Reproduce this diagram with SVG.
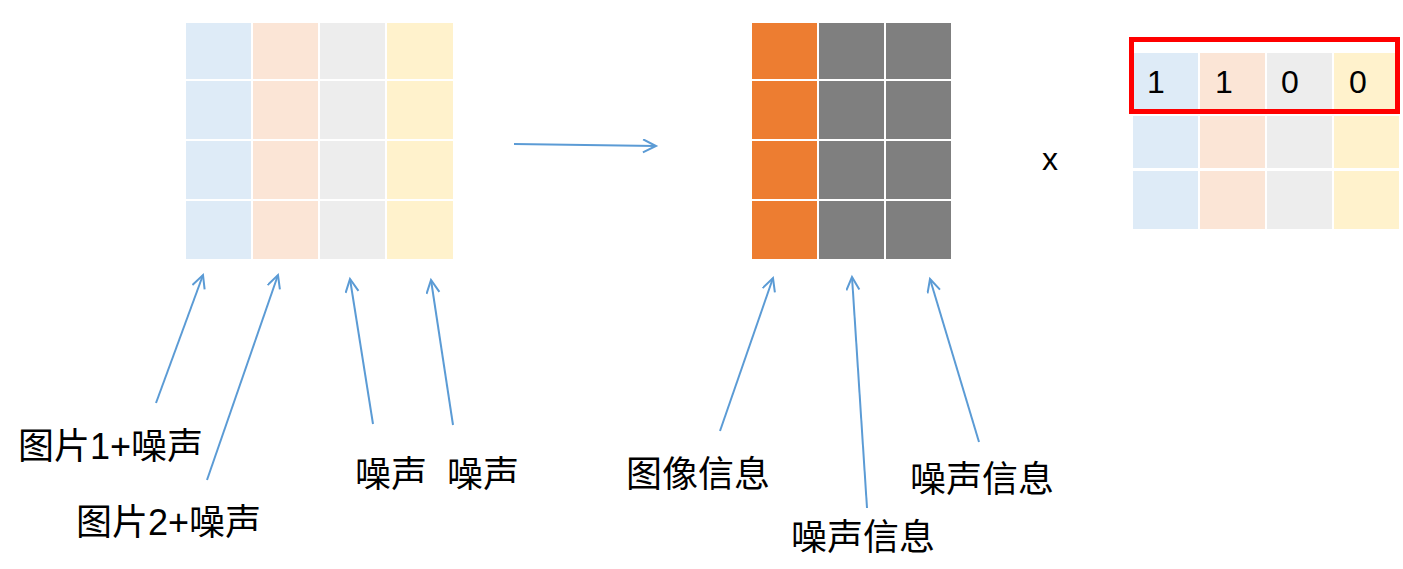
<svg xmlns="http://www.w3.org/2000/svg" width="1403" height="569" viewBox="0 0 1403 569">
<style>
.c1{fill:#DEEBF7}.c2{fill:#FBE5D6}.c3{fill:#EDEDED}.c4{fill:#FFF2CC}
.or{fill:#ED7D31}.gr{fill:#7F7F7F}
.conn{stroke:#5B9BD5;stroke-width:2;fill:none;marker-end:url(#ah)}
.t{font-family:"Liberation Sans","Noto Sans CJK SC",sans-serif;font-size:36px;fill:#000}
.n{font-family:"Liberation Sans","Noto Sans CJK SC",sans-serif;font-size:32px;fill:#000;text-anchor:middle}
</style>
<defs>
<marker id="ah" markerUnits="userSpaceOnUse" markerWidth="18" markerHeight="16" refX="14" refY="7" orient="auto" viewBox="0 0 18 16">
<path d="M1,0.5 L14,7 L1,13.5" fill="none" stroke="#5B9BD5" stroke-width="2"/>
</marker>
</defs>
<g id="grid-input">
<rect class="c1" x="186" y="23" width="65" height="56"/><rect class="c2" x="253" y="23" width="65" height="56"/><rect class="c3" x="320" y="23" width="65" height="56"/><rect class="c4" x="387" y="23" width="66" height="56"/>
<rect class="c1" x="186" y="81" width="65" height="58"/><rect class="c2" x="253" y="81" width="65" height="58"/><rect class="c3" x="320" y="81" width="65" height="58"/><rect class="c4" x="387" y="81" width="66" height="58"/>
<rect class="c1" x="186" y="141" width="65" height="58"/><rect class="c2" x="253" y="141" width="65" height="58"/><rect class="c3" x="320" y="141" width="65" height="58"/><rect class="c4" x="387" y="141" width="66" height="58"/>
<rect class="c1" x="186" y="201" width="65" height="58"/><rect class="c2" x="253" y="201" width="65" height="58"/><rect class="c3" x="320" y="201" width="65" height="58"/><rect class="c4" x="387" y="201" width="66" height="58"/>
</g>
<g id="grid-output">
<rect class="or" x="752" y="23" width="65" height="56"/><rect class="gr" x="819" y="23" width="65" height="56"/><rect class="gr" x="886" y="23" width="65" height="56"/>
<rect class="or" x="752" y="81" width="65" height="58"/><rect class="gr" x="819" y="81" width="65" height="58"/><rect class="gr" x="886" y="81" width="65" height="58"/>
<rect class="or" x="752" y="141" width="65" height="58"/><rect class="gr" x="819" y="141" width="65" height="58"/><rect class="gr" x="886" y="141" width="65" height="58"/>
<rect class="or" x="752" y="201" width="65" height="58"/><rect class="gr" x="819" y="201" width="65" height="58"/><rect class="gr" x="886" y="201" width="65" height="58"/>
</g>
<g id="grid-mask">
<rect class="c1" x="1133" y="53" width="65" height="61"/><rect class="c2" x="1200" y="53" width="65" height="61"/><rect class="c3" x="1267" y="53" width="65" height="61"/><rect class="c4" x="1334" y="53" width="65" height="61"/>
<rect class="c1" x="1133" y="116" width="65" height="52"/><rect class="c2" x="1200" y="116" width="65" height="52"/><rect class="c3" x="1267" y="116" width="65" height="52"/><rect class="c4" x="1334" y="116" width="65" height="52"/>
<rect class="c1" x="1133" y="171" width="65" height="58"/><rect class="c2" x="1200" y="171" width="65" height="58"/><rect class="c3" x="1267" y="171" width="65" height="58"/><rect class="c4" x="1334" y="171" width="65" height="58"/>
<text class="n" x="1156" y="93">1</text><text class="n" x="1224" y="93">1</text><text class="n" x="1290" y="93">0</text><text class="n" x="1358" y="93">0</text>
<rect x="1131.5" y="39.5" width="266" height="72" fill="none" stroke="#FF0000" stroke-width="5"/>
</g>
<g id="times"><text class="n" x="1050" y="170">x</text></g>
<g id="connectors">
<line class="conn" x1="514" y1="144" x2="656" y2="146"/>
<line class="conn" x1="156" y1="403" x2="203" y2="275"/>
<line class="conn" x1="207" y1="480" x2="278" y2="275"/>
<line class="conn" x1="373" y1="424" x2="350" y2="279"/>
<line class="conn" x1="453" y1="425" x2="431" y2="280"/>
<line class="conn" x1="720" y1="431" x2="773" y2="278"/>
<line class="conn" x1="867" y1="508" x2="852" y2="277"/>
<line class="conn" x1="979" y1="442" x2="930" y2="279"/>
</g>
<g id="labels">
<text class="t" x="18" y="459">图片1+噪声</text>
<text class="t" x="76" y="535">图片2+噪声</text>
<text class="t" x="355" y="487">噪声</text>
<text class="t" x="447" y="487">噪声</text>
<text class="t" x="626" y="487">图像信息</text>
<text class="t" x="791" y="550">噪声信息</text>
<text class="t" x="910" y="492">噪声信息</text>
</g>
</svg>
